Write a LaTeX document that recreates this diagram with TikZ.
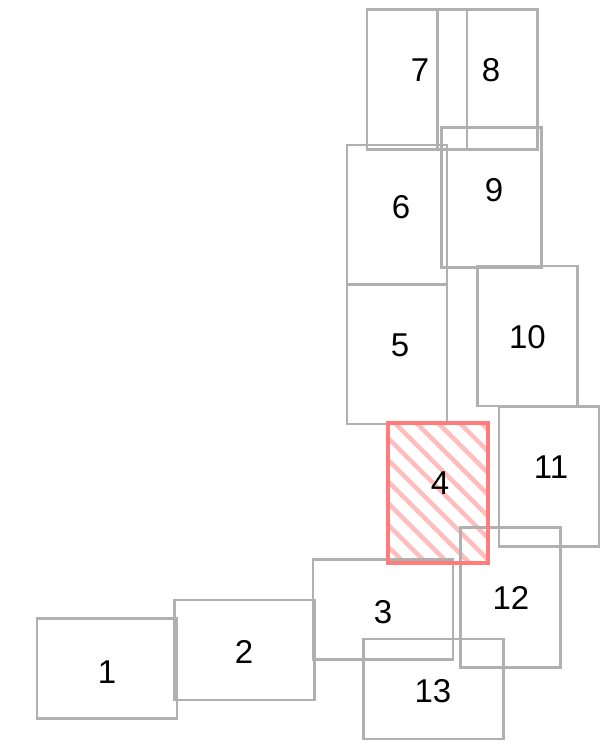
\documentclass[tikz,border=0pt]{standalone}
\usepackage{fontspec}
\setmainfont{Liberation Sans}
\definecolor{boxgray}{HTML}{B0B0B0}
\definecolor{markred}{HTML}{FF7C7C}
\definecolor{hatchred}{HTML}{FFBDBD}
\begin{document}
\begin{tikzpicture}[x=1pt, y=-1pt,
    every node/.style={font=\fontsize{33}{38}\selectfont, inner sep=0pt},
    tall/.style={draw=boxgray, line width=2.2pt, minimum width=100pt, minimum height=140pt},
    wide/.style={draw=boxgray, line width=2.2pt, minimum width=140pt, minimum height=100pt},
    hatch/.style={draw=hatchred, line width=4.5pt}]
    \useasboundingbox (0,0) rectangle (600,745);

    % marked box with hatching
    \node[minimum width=100pt, minimum height=140pt] (b4) at (437.5,493) {};
    \begin{scope}
        \clip (387,423) rectangle (488,563);
        \foreach \i in {-8,...,6}
            \draw[hatch] (373+\i*21.7,423) -- ++(170,170);
    \end{scope}

    \node[wide] (b1) at (107,668.5) {};
    \node[wide] (b2) at (244.5,650) {};
    \node[wide] (b3) at (383,609.5) {};
    \node[tall] (b5) at (397,354) {};
    \node[tall] (b6) at (397,215) {};
    \node[tall] (b7) at (417,79.5) {};
    \node[tall] (b8) at (487.5,79.5) {};
    \node[tall] (b9) at (491.5,197.5) {};
    \node[tall] (b10) at (527.5,336) {};
    \node[tall] (b11) at (549,476.5) {};
    \node[tall] (b12) at (510.5,597.5) {};
    \node[wide] (b13) at (433.5,689) {};

    \node[draw=markred, line width=4pt, minimum width=100pt, minimum height=140pt] at (b4) {};

    % numbers
    \node (n1) at (107,672) {1};
    \node (n2) at (244,652) {2};
    \node (n3) at (383,612) {3};
    \node (n4) at (440,483) {4};
    \node (n5) at (400,345) {5};
    \node (n6) at (401,207) {6};
    \node (n7) at (420,70) {7};
    \node (n8) at (491,70) {8};
    \node (n9) at (494,190) {9};
    \node (n10) at (527.5,337) {10};
    \node (n11) at (551,467) {11};
    \node (n12) at (511,598) {12};
    \node (n13) at (433,691) {13};
\end{tikzpicture}
\end{document}
